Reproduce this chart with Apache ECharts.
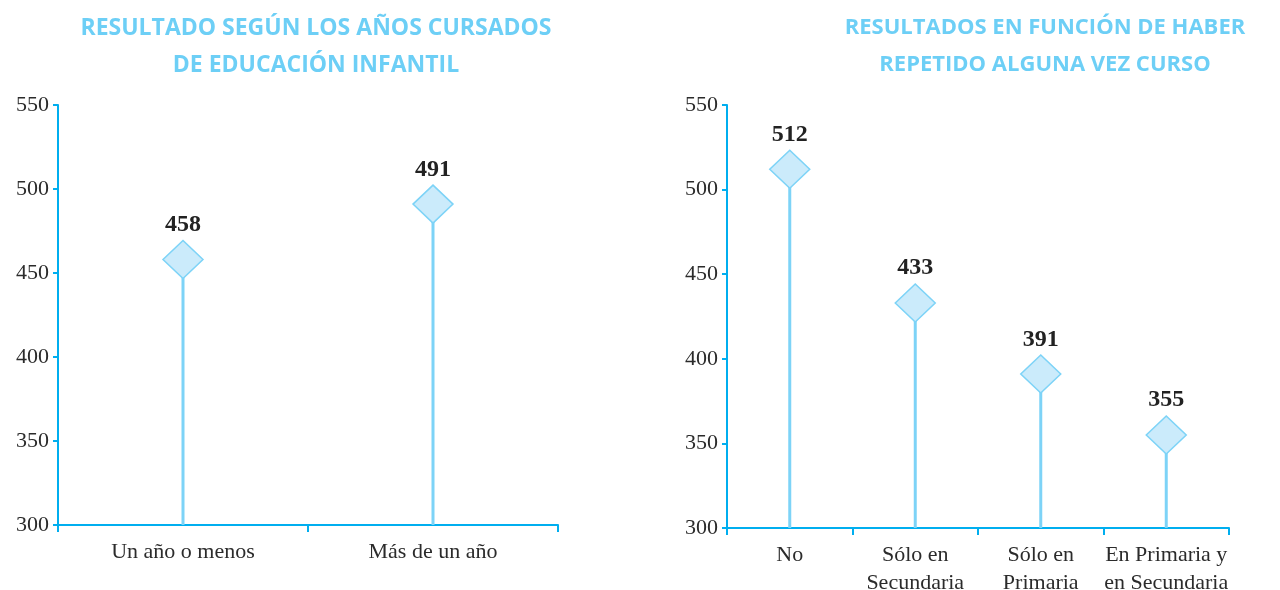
<!DOCTYPE html>
<html>
<head>
<meta charset="utf-8">
<script src="https://cdn.jsdelivr.net/npm/echarts@6/dist/echarts.min.js"></script>
<style>
html, body { margin: 0; padding: 0; background: #fff; }
#main { width: 1280px; height: 590px; }
</style>
</head>
<body>
<div id="main"></div>
<script>
var dom = document.getElementById('main');
var myChart = echarts.init(dom);

var leftTitle = 'RESULTADO SEGÚN LOS AÑOS CURSADOS\nDE EDUCACIÓN INFANTIL';
var leftCats = ['Un año o menos', 'Más de un año'];
var leftValues = [458, 491];

var rightTitle = 'RESULTADOS EN FUNCIÓN DE HABER\nREPETIDO ALGUNA VEZ CURSO';
var rightCats = ['No', 'Sólo en\nSecundaria', 'Sólo en\nPrimaria', 'En Primaria y\nen Secundaria'];
var rightValues = [512, 433, 391, 355];

var yTicks = { min: 300, max: 550, interval: 50 };

var axisBlue = '#00aeef';
var stemBlue = '#7dd3f7';
var fillBlue = '#cbebfb';
var titleBlue = '#6dcff6';
var serif = '"Liberation Serif", "DejaVu Serif", serif';

function xAxisFor(idx, cats) {
    return {
        type: 'category',
        gridIndex: idx,
        data: cats,
        boundaryGap: true,
        axisLine: { lineStyle: { color: axisBlue, width: 2 } },
        axisTick: { show: true, length: 7, lineStyle: { color: axisBlue, width: 2 } },
        axisLabel: { interval: 0, color: '#2b2b2b', fontFamily: serif, fontSize: 22, margin: 13, lineHeight: 28 }
    };
}

function yAxisFor(idx) {
    return {
        type: 'value',
        gridIndex: idx,
        min: yTicks.min,
        max: yTicks.max,
        interval: yTicks.interval,
        splitLine: { show: false },
        axisLine: { show: true, lineStyle: { color: axisBlue, width: 2 } },
        axisTick: { show: true, length: 5, lineStyle: { color: axisBlue, width: 2 } },
        axisLabel: { color: '#2b2b2b', fontFamily: serif, fontSize: 22, margin: 9 }
    };
}

function seriesFor(idx, values) {
    return [
        {
            type: 'bar',
            xAxisIndex: idx,
            yAxisIndex: idx,
            data: values,
            barWidth: 3,
            itemStyle: { color: stemBlue },
            silent: true
        },
        {
            type: 'scatter',
            xAxisIndex: idx,
            yAxisIndex: idx,
            data: values,
            symbol: 'diamond',
            symbolSize: [40, 38],
            itemStyle: { color: fillBlue, borderColor: stemBlue, borderWidth: 1.5, opacity: 1 },
            label: {
                show: true,
                position: 'top',
                distance: 3,
                color: '#222',
                fontFamily: serif,
                fontWeight: 'bold',
                fontSize: 24
            },
            z: 5
        }
    ];
}

function titleStyle(size) {
    return {
        color: titleBlue,
        fontFamily: '"Open Sans", "DejaVu Sans", sans-serif',
        fontWeight: 'bold',
        fontSize: size,
        lineHeight: 37
    };
}

option = {
    animation: false,
    title: [
        { text: leftTitle, left: 311, top: 5, textAlign: 'center', textStyle: titleStyle(23) },
        { text: rightTitle, left: 1040, top: 4, textAlign: 'center', textStyle: titleStyle(22) }
    ],
    grid: [
        { left: 58, right: 722, top: 105, bottom: 65, outerBoundsMode: 'none', containLabel: false },
        { left: 727, right: 51, top: 105, bottom: 62, outerBoundsMode: 'none', containLabel: false }
    ],
    xAxis: [xAxisFor(0, leftCats), xAxisFor(1, rightCats)],
    yAxis: [yAxisFor(0), yAxisFor(1)],
    series: seriesFor(0, leftValues).concat(seriesFor(1, rightValues))
};

if (option && typeof option === 'object') {
    myChart.setOption(option, true);
}
window.addEventListener('resize', function () {
    myChart.resize();
});
</script>
</body>
</html>
